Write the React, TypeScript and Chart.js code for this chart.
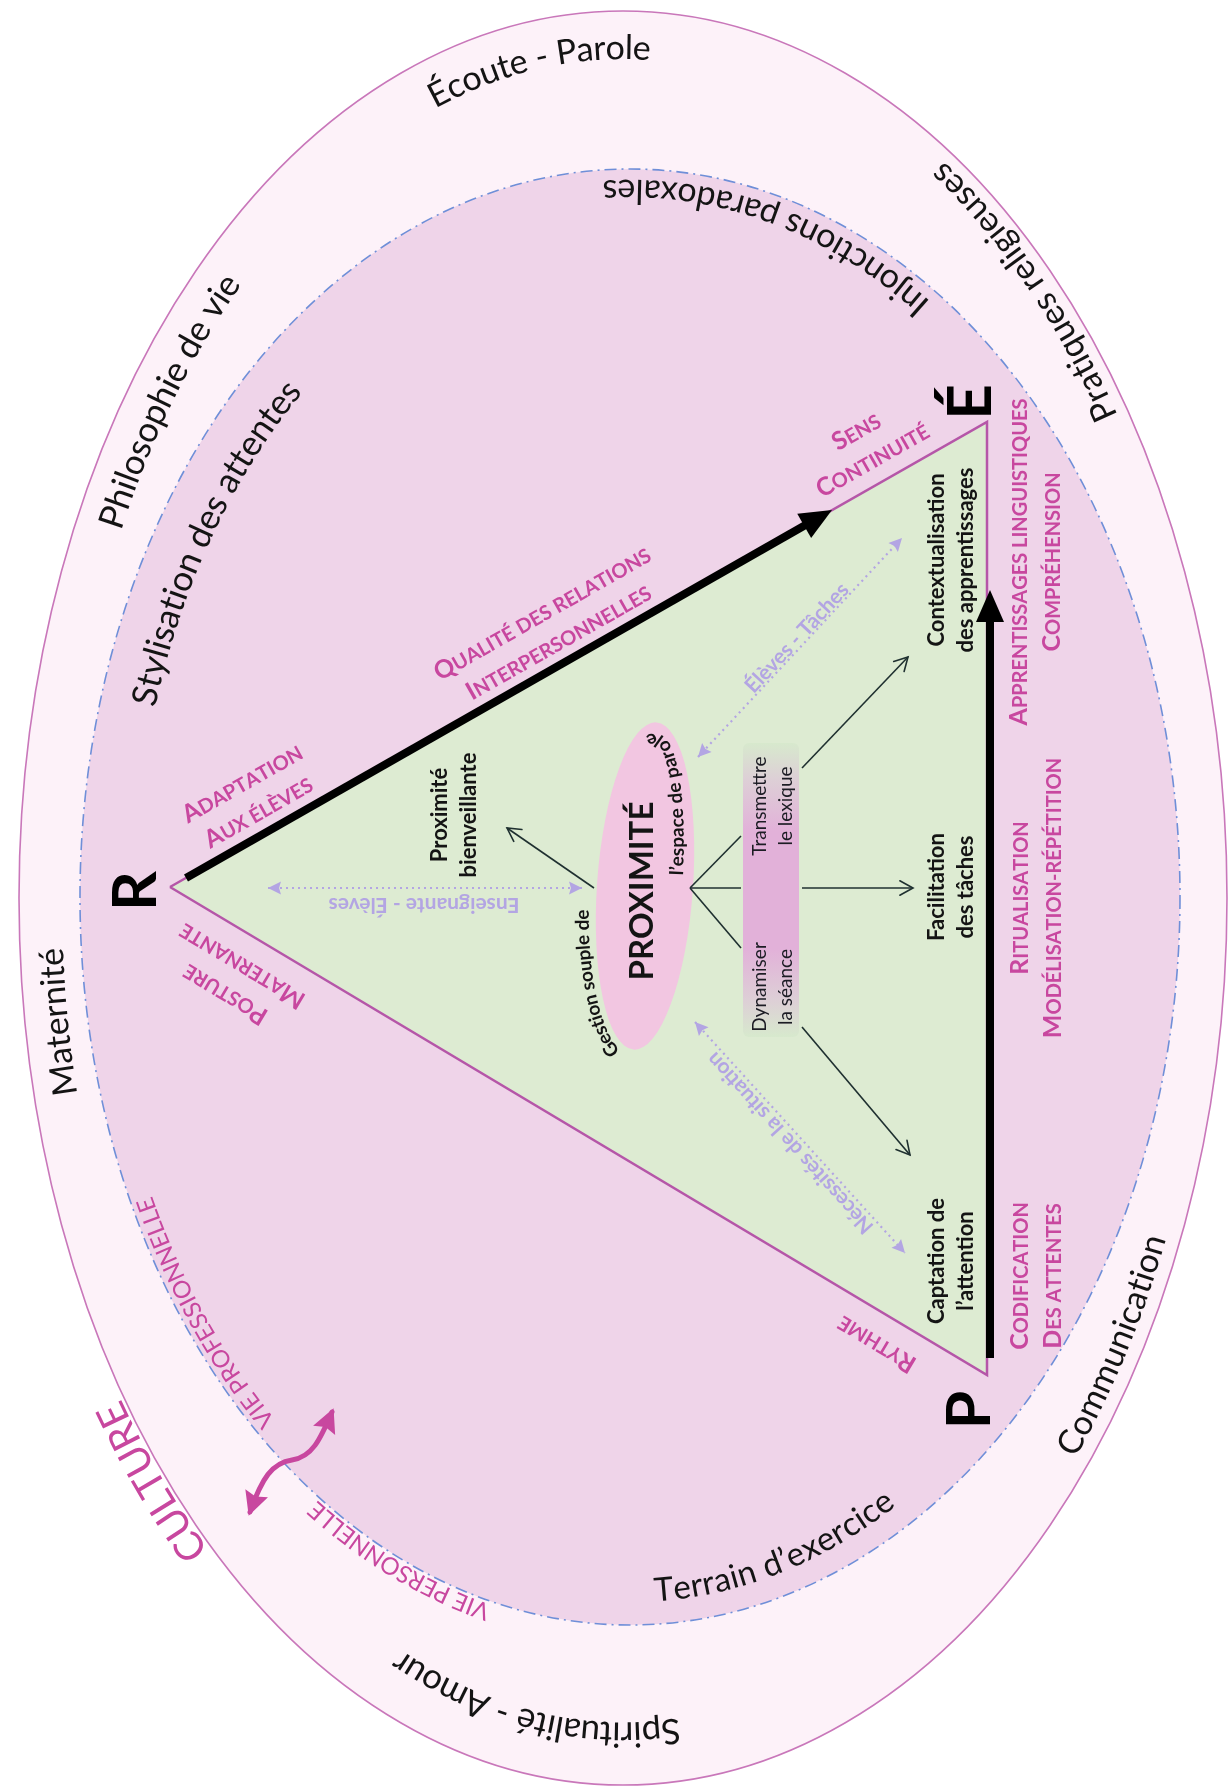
import React, { useEffect, useRef } from "react";
import { Chart, registerables } from "chart.js";

Chart.register(...registerables);

const FRAME_W = 1231;
const FRAME_H = 1791;
const FAMILY = "Lato, 'Open Sans', 'DejaVu Sans', sans-serif";

// ===== DATA (diagram units: 1 unit = 1 px of the 1231 x 1791 frame) =====
// Poles of the triangle
const poleNames = ["R", "É", "P"];
const poleX = [170, 987, 987];
const poleY = [887, 422, 1375];
const poleLabelX = [136, 971, 970];
const poleLabelY = [891, 402, 1410];

// Ellipses: [centre x, centre y, radius x, radius y, tilt in degrees]
const outerRing = [623, 898, 604, 887, 0];
const innerRing = [630, 897, 550, 728, 0];
const coreRing = [645, 886, 48, 164, 4];

// Texts set along the rings
const ringTexts = [
  "Écoute - Parole",
  "Injonctions paradoxales",
  "Pratiques religieuses",
  "Philosophie de vie",
  "Stylisation des attentes",
  "Maternité",
  "CULTURE",
  "VIE PROFESSIONNELLE",
  "VIE PERSONNELLE",
  "Spiritualité - Amour",
  "Terrain d’exercice",
  "Communication",
];
const ringX = [537, 775, 1034, 162, 200, 57, 150, 197, 395, 531, 779, 1117];
const ringY = [58, 218, 286, 398, 536, 1022, 1483, 1317, 1568, 1722, 1562, 1347];
const ringTurn = [1, -1, -1, 1, 1, 1, 1, 1, 1, 1, -1, -1];
const ringOnInner = [0, 1, 0, 0, 1, 0, 0, 1, 1, 0, 1, 0];

// Central notion
const coreTitle = ["PROXIMITÉ"];
const coreTitleX = [642];
const coreTitleY = [891];
const coreTexts = ["Gestion souple de", "l’espace de parole"];
const coreTextX = [588, 676];
const coreTextY = [985, 800];
const coreTurn = [1, -1];

// Bar with the two actions
const barX = [743, 799];
const barY = [743, 1037];
const barTexts = [["Transmettre", "le lexique"], ["Dynamiser", "la séance"]];
const barTextX = [773, 773];
const barTextY = [806, 987];

// Black labels inside the triangle
const actionTexts = [
  ["Proximité", "bienveillante"],
  ["Contextualisation", "des apprentissages"],
  ["Facilitation", "des tâches"],
  ["Captation de", "l’attention"],
];
const actionX = [454, 951, 951, 951];
const actionY = [815, 560, 887, 1261];

// Small-caps labels along the sides (0 = R-É, 1 = R-P, 2 = P-É)
const sideTexts = [
  ["Adaptation", "Aux élèves"],
  ["Qualité des relations", "Interpersonnelles"],
  ["Sens", "Continuité"],
  ["Posture", "Maternante"],
  ["Rythme"],
  ["Apprentissages linguistiques", "Compréhension"],
  ["Ritualisation", "Modélisation-répétition"],
  ["Codification", "Des attentes"],
];
const sideX = [250, 550, 864, 233, 876, 1034, 1035, 1035];
const sideY = [797, 627, 445, 981, 1345, 562, 898, 1276];
const sideEdge = [0, 0, 0, 1, 1, 2, 2, 2];

// Thick arrows (start, tip)
const thickFromX = [186, 990];
const thickFromY = [878, 1358];
const thickTipX = [832, 990];
const thickTipY = [510, 590];

// Thin spokes around the core (1 = arrow head at the end)
const spokeFromX = [690, 690, 690, 802, 802, 802, 594];
const spokeFromY = [888, 888, 888, 888, 768, 1027, 888];
const spokeToX = [741, 741, 741, 913, 908, 910, 507];
const spokeToY = [836, 888, 948, 888, 657, 1155, 828];
const spokeHead = [0, 0, 0, 1, 1, 1, 1];

// Dotted relation arrows
const linkTexts = ["Enseignante - Élèves", "Élèves - Tâches", "Nécessités de la situation"];
const linkFromX = [268, 698, 695];
const linkFromY = [888, 757, 1022];
const linkToX = [582, 902, 905];
const linkToY = [888, 538, 1253];
const linkLabelX = [424, 797, 790];
const linkLabelY = [905, 638, 1143];
const linkLabelFlip = [1, 0, 1];

// Wavy double arrow (two cubic segments)
const waveX = [250, 262, 272, 292, 312, 320, 332];
const waveY = [1512, 1478, 1463, 1460, 1457, 1440, 1412];

// ===== STYLES =====
const COL = {
  outerFill: "#fdf2f9",
  outerLine: "#c977ba",
  innerFill: "#efd4e9",
  innerLine: "#6f8fd8",
  tri: "#ddebd2",
  triLine: "#b556a8",
  core: "#f2c6e1",
  magenta: "#c8479f",
  lav: "#b3a5e3",
  ink: "#141414",
  spoke: "#1f3030",
};
const ringFontSize = [34, 34, 34, 35, 35, 34, 40, 24, 24, 35, 33, 34];
const ringMagenta = [0, 0, 0, 0, 0, 0, 1, 1, 1, 0, 0, 0];
const THICK_HEAD = 30;

// ===== helpers =====
function pt(chart: any, x: number, y: number) {
  return [chart.scales.x.getPixelForValue(x), chart.scales.y.getPixelForValue(y)];
}
function lenX(chart: any, v: number) {
  return Math.abs(chart.scales.x.getPixelForValue(v) - chart.scales.x.getPixelForValue(0));
}
function lenY(chart: any, v: number) {
  return Math.abs(chart.scales.y.getPixelForValue(v) - chart.scales.y.getPixelForValue(0));
}
function pixEllipse(chart: any, e: number[]) {
  const [cx, cy] = pt(chart, e[0], e[1]);
  return { cx, cy, rx: lenX(chart, e[2]), ry: lenY(chart, e[3]), rot: (e[4] * Math.PI) / 180 };
}

function paintEllipse(chart: any, e: number[], fill: string, stroke: string | null, dash: number[], width: number) {
  const ctx = chart.ctx;
  const E = pixEllipse(chart, e);
  ctx.save();
  ctx.beginPath();
  ctx.ellipse(E.cx, E.cy, E.rx, E.ry, E.rot, 0, Math.PI * 2);
  ctx.fillStyle = fill;
  ctx.fill();
  if (stroke) {
    ctx.setLineDash(dash);
    ctx.lineWidth = width;
    ctx.strokeStyle = stroke;
    ctx.stroke();
  }
  ctx.restore();
}

function ellipseText(ctx: any, text: string, E: any, px: number, py: number, turn: number, font: string, color: string) {
  ctx.save();
  ctx.font = font;
  ctx.fillStyle = color;
  ctx.textAlign = "center";
  ctx.textBaseline = "middle";
  const cr = Math.cos(E.rot);
  const sr = Math.sin(E.rot);
  const dx = px - E.cx;
  const dy = py - E.cy;
  const lx = dx * cr + dy * sr;
  const ly = -dx * sr + dy * cr;
  const f = (d: number) => (lx / (E.rx - d)) ** 2 + (ly / (E.ry - d)) ** 2 - 1;
  let lo = -400;
  let hi = Math.min(E.rx, E.ry) - 1;
  for (let i = 0; i < 60; i++) {
    const mid = (lo + hi) / 2;
    if (f(mid) > 0) hi = mid;
    else lo = mid;
  }
  const a = E.rx - lo;
  const b = E.ry - lo;
  const t0 = Math.atan2(ly / b, lx / a);
  const chars = Array.from(text);
  const widths = chars.map((c) => ctx.measureText(c).width);
  const total = widths.reduce((s, w) => s + w, 0);
  const speed = (t: number) => Math.hypot(a * Math.sin(t), b * Math.cos(t));
  const tAt = (s: number) => {
    let t = t0;
    let rem = Math.abs(s);
    const sg = Math.sign(s) * turn;
    const h = 0.0005;
    while (rem > 0) {
      const ds = speed(t) * h;
      if (ds >= rem) {
        t += (sg * h * rem) / ds;
        break;
      }
      rem -= ds;
      t += sg * h;
    }
    return t;
  };
  let s = -total / 2;
  chars.forEach((ch, i) => {
    const sc = s + widths[i] / 2;
    s += widths[i];
    const t = tAt(sc);
    const ex = a * Math.cos(t);
    const ey = b * Math.sin(t);
    const X = E.cx + ex * cr - ey * sr;
    const Y = E.cy + ex * sr + ey * cr;
    const tx = -a * Math.sin(t) * turn;
    const ty = b * Math.cos(t) * turn;
    const ang = Math.atan2(ty, tx) + E.rot;
    ctx.save();
    ctx.translate(X, Y);
    ctx.rotate(ang);
    ctx.fillText(ch, 0, 0);
    ctx.restore();
  });
  ctx.restore();
}

function textBlock(ctx: any, lines: string[], x: number, y: number, ang: number, gap: number, font: string, color: string) {
  ctx.save();
  ctx.translate(x, y);
  ctx.rotate(ang);
  ctx.font = font;
  ctx.fillStyle = color;
  ctx.textAlign = "center";
  ctx.textBaseline = "middle";
  lines.forEach((ln, i) => ctx.fillText(ln, 0, (i - (lines.length - 1) / 2) * gap));
  ctx.restore();
}

function smallCapsBlock(ctx: any, lines: string[], x: number, y: number, ang: number, gap: number, big: number, small: number, color: string) {
  ctx.save();
  ctx.translate(x, y);
  ctx.rotate(ang);
  ctx.fillStyle = color;
  ctx.textAlign = "left";
  ctx.textBaseline = "alphabetic";
  lines.forEach((ln, li) => {
    const parts = Array.from(ln).map((ch) => {
      const isBig = ch === ch.toUpperCase() && ch !== ch.toLowerCase();
      return { ch: ch.toUpperCase(), size: isBig ? big : small };
    });
    const widths = parts.map((p) => {
      ctx.font = `bold ${p.size}px ${FAMILY}`;
      return ctx.measureText(p.ch).width;
    });
    const total = widths.reduce((s, w) => s + w, 0);
    let cx = -total / 2;
    const by = (li - (lines.length - 1) / 2) * gap + big * 0.36;
    parts.forEach((p, i) => {
      ctx.font = `bold ${p.size}px ${FAMILY}`;
      ctx.fillText(p.ch, cx, by);
      cx += widths[i];
    });
  });
  ctx.restore();
}

function filledHead(ctx: any, tx: number, ty: number, ang: number, len: number, hw: number, color: string) {
  ctx.save();
  ctx.translate(tx, ty);
  ctx.rotate(ang);
  ctx.beginPath();
  ctx.moveTo(0, 0);
  ctx.lineTo(-len, -hw);
  ctx.lineTo(-len * 0.85, 0);
  ctx.lineTo(-len, hw);
  ctx.closePath();
  ctx.fillStyle = color;
  ctx.fill();
  ctx.restore();
}

function openHead(ctx: any, tx: number, ty: number, ang: number, len: number, spread: number, color: string, w: number) {
  ctx.save();
  ctx.strokeStyle = color;
  ctx.lineWidth = w;
  ctx.lineCap = "round";
  ctx.beginPath();
  ctx.moveTo(tx - len * Math.cos(ang - spread), ty - len * Math.sin(ang - spread));
  ctx.lineTo(tx, ty);
  ctx.lineTo(tx - len * Math.cos(ang + spread), ty - len * Math.sin(ang + spread));
  ctx.stroke();
  ctx.restore();
}

// ===== datasets =====
function seg(x1: number, y1: number, x2: number, y2: number) {
  return [
    { x: x1, y: y1 },
    { x: x2, y: y2 },
  ];
}

function buildDatasets() {
  const ds: any[] = [];
  ds.push({
    role: "triangle",
    data: [0, 1, 2, 0].map((i) => ({ x: poleX[i], y: poleY[i] })),
    showLine: true,
    fill: "shape",
    backgroundColor: COL.tri,
    borderColor: COL.triLine,
    borderWidth: 2.5,
    borderJoinStyle: "miter",
    pointRadius: 0,
    order: 1,
  });
  thickFromX.forEach((x, i) => {
    const dx = thickTipX[i] - x;
    const dy = thickTipY[i] - thickFromY[i];
    const L = Math.hypot(dx, dy);
    ds.push({
      role: "thick",
      data: seg(x, thickFromY[i], thickTipX[i] - (dx / L) * THICK_HEAD, thickTipY[i] - (dy / L) * THICK_HEAD),
      showLine: true,
      borderColor: "#000",
      borderWidth: 8,
      borderCapStyle: "butt",
      pointRadius: 0,
      order: 0,
    });
  });
  spokeFromX.forEach((x, i) => {
    ds.push({
      role: "spoke",
      head: spokeHead[i],
      data: seg(x, spokeFromY[i], spokeToX[i], spokeToY[i]),
      showLine: true,
      borderColor: COL.spoke,
      borderWidth: 1.6,
      pointRadius: 0,
      order: 0,
    });
  });
  linkFromX.forEach((x, i) => {
    ds.push({
      role: "link",
      idx: i,
      data: seg(x, linkFromY[i], linkToX[i], linkToY[i]),
      showLine: true,
      borderColor: COL.lav,
      borderWidth: 2.2,
      borderDash: [2, 4],
      pointRadius: 0,
      order: 0,
    });
  });
  return ds;
}

const diagramPlugin = {
  id: "diagram",
  beforeDatasetsDraw(chart: any) {
    paintEllipse(chart, outerRing, COL.outerFill, COL.outerLine, [], 1.6);
    paintEllipse(chart, innerRing, COL.innerFill, COL.innerLine, [12, 5, 2, 5], 1.6);
  },
  afterDatasetDraw(chart: any, args: any) {
    if (args.index !== 0) return;
    const ctx = chart.ctx;
    paintEllipse(chart, coreRing, COL.core, null, [], 0);
    const [x0, y0] = pt(chart, barX[0], barY[0]);
    const [x1, y1] = pt(chart, barX[1], barY[1]);
    const g = ctx.createLinearGradient(0, y0, 0, y1);
    g.addColorStop(0, "#d7e9cd");
    g.addColorStop(0.12, "#ddd0d6");
    g.addColorStop(0.3, "#e2b1d9");
    g.addColorStop(0.7, "#e2b1d9");
    g.addColorStop(0.88, "#ddd0d6");
    g.addColorStop(1, "#d7e9cd");
    ctx.save();
    ctx.beginPath();
    ctx.roundRect(x0, y0, x1 - x0, y1 - y0, 6);
    ctx.fillStyle = g;
    ctx.fill();
    ctx.restore();
  },
  afterDatasetsDraw(chart: any) {
    const ctx = chart.ctx;
    const dsets = chart.data.datasets;
    // arrow heads
    dsets.forEach((d: any, i: number) => {
      const pts = chart.getDatasetMeta(i).data;
      if (!pts || pts.length < 2) return;
      const a = pts[0];
      const b = pts[pts.length - 1];
      const ang = Math.atan2(b.y - a.y, b.x - a.x);
      if (d.role === "thick") {
        const tip = [b.x + Math.cos(ang) * THICK_HEAD, b.y + Math.sin(ang) * THICK_HEAD];
        ctx.save();
        ctx.translate(tip[0], tip[1]);
        ctx.rotate(ang);
        ctx.beginPath();
        ctx.moveTo(0, 0);
        ctx.lineTo(-THICK_HEAD - 2, -14);
        ctx.lineTo(-THICK_HEAD - 2, 14);
        ctx.closePath();
        ctx.fillStyle = "#000";
        ctx.fill();
        ctx.restore();
      } else if (d.role === "spoke" && d.head) {
        openHead(ctx, b.x, b.y, ang, 15, 0.5, COL.spoke, 1.6);
      } else if (d.role === "link") {
        filledHead(ctx, b.x, b.y, ang, 13, 6.5, COL.lav);
        filledHead(ctx, a.x, a.y, ang + Math.PI, 13, 6.5, COL.lav);
        const [lx, ly] = pt(chart, linkLabelX[d.idx], linkLabelY[d.idx]);
        textBlock(ctx, [linkTexts[d.idx]], lx, ly, ang + (linkLabelFlip[d.idx] ? Math.PI : 0), 0, `bold 21px ${FAMILY}`, COL.lav);
      }
    });

    // wavy double arrow
    {
      const w = waveX.map((x, i) => pt(chart, x, waveY[i]));
      ctx.save();
      ctx.strokeStyle = COL.magenta;
      ctx.lineWidth = 5;
      ctx.lineCap = "round";
      ctx.beginPath();
      ctx.moveTo(w[0][0], w[0][1]);
      ctx.bezierCurveTo(w[1][0], w[1][1], w[2][0], w[2][1], w[3][0], w[3][1]);
      ctx.bezierCurveTo(w[4][0], w[4][1], w[5][0], w[5][1], w[6][0], w[6][1]);
      ctx.stroke();
      ctx.restore();
      const a0 = Math.atan2(w[0][1] - w[1][1], w[0][0] - w[1][0]);
      const a1 = Math.atan2(w[6][1] - w[5][1], w[6][0] - w[5][0]);
      filledHead(ctx, w[0][0] + Math.cos(a0) * 4, w[0][1] + Math.sin(a0) * 4, a0, 24, 12, COL.magenta);
      filledHead(ctx, w[6][0] + Math.cos(a1) * 4, w[6][1] + Math.sin(a1) * 4, a1, 24, 12, COL.magenta);
    }

    // ring texts
    const outerE = pixEllipse(chart, outerRing);
    const innerE = pixEllipse(chart, innerRing);
    ringTexts.forEach((t, i) => {
      const [x, y] = pt(chart, ringX[i], ringY[i]);
      const font = `${ringFontSize[i]}px ${FAMILY}`;
      ellipseText(ctx, t, ringOnInner[i] ? innerE : outerE, x, y, ringTurn[i], font, ringMagenta[i] ? COL.magenta : COL.ink);
    });

    // core
    const coreE = pixEllipse(chart, coreRing);
    coreTexts.forEach((t, i) => {
      const [x, y] = pt(chart, coreTextX[i], coreTextY[i]);
      ellipseText(ctx, t, coreE, x, y, coreTurn[i], `bold 19px ${FAMILY}`, COL.ink);
    });
    coreTitle.forEach((t, i) => {
      const [x, y] = pt(chart, coreTitleX[i], coreTitleY[i]);
      textBlock(ctx, [t], x, y, -Math.PI / 2, 0, `bold 33px ${FAMILY}`, COL.ink);
    });

    // bar texts
    barTexts.forEach((lines, i) => {
      const [x, y] = pt(chart, barTextX[i], barTextY[i]);
      textBlock(ctx, lines, x, y, -Math.PI / 2, 26, `19px ${FAMILY}`, "#1c1c24");
    });

    // action labels
    actionTexts.forEach((lines, i) => {
      const [x, y] = pt(chart, actionX[i], actionY[i]);
      textBlock(ctx, lines, x, y, -Math.PI / 2, 29, `bold 22px ${FAMILY}`, COL.ink);
    });

    // side labels
    const [rX, rY] = pt(chart, poleX[0], poleY[0]);
    const [eX, eY] = pt(chart, poleX[1], poleY[1]);
    const [pX, pY] = pt(chart, poleX[2], poleY[2]);
    const edgeAngles = [Math.atan2(eY - rY, eX - rX), Math.atan2(pY - rY, pX - rX) + Math.PI, -Math.PI / 2];
    sideTexts.forEach((lines, i) => {
      const [x, y] = pt(chart, sideX[i], sideY[i]);
      smallCapsBlock(ctx, lines, x, y, edgeAngles[sideEdge[i]], 33, 25, 20, COL.magenta);
    });

    // pole letters
    poleNames.forEach((n, i) => {
      const [x, y] = pt(chart, poleLabelX[i], poleLabelY[i]);
      textBlock(ctx, [n], x, y, -Math.PI / 2, 0, `bold 62px ${FAMILY}`, "#000");
    });
  },
};

export default function App() {
  const ref = useRef<HTMLCanvasElement | null>(null);
  useEffect(() => {
    if (!ref.current) return;
    const chart = new Chart(ref.current, {
      type: "scatter",
      data: { datasets: buildDatasets() },
      options: {
        animation: false,
        responsive: false,
        devicePixelRatio: 1,
        events: [],
        layout: { padding: 0 },
        plugins: {
          legend: { display: false },
          tooltip: { enabled: false },
          filler: { propagate: false },
        },
        scales: {
          x: { type: "linear", min: 0, max: FRAME_W, display: false },
          y: { type: "linear", min: 0, max: FRAME_H, reverse: true, display: false },
        },
      },
      plugins: [diagramPlugin],
    } as any);
    return () => chart.destroy();
  }, []);
  return (
    <div style={{ position: "absolute", left: 0, top: 0, width: FRAME_W, height: FRAME_H, background: "#fff" }}>
      <canvas ref={ref} width={FRAME_W} height={FRAME_H} style={{ display: "block", width: FRAME_W, height: FRAME_H }} />
    </div>
  );
}
